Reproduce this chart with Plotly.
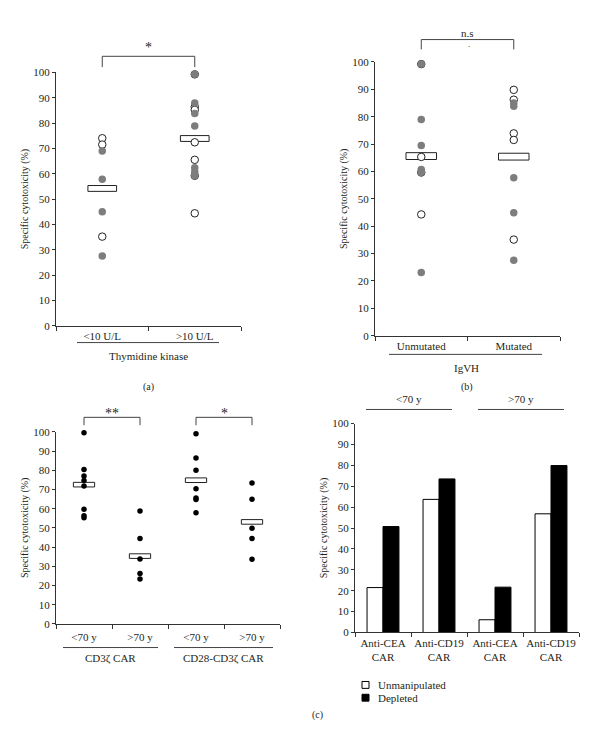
import plotly.graph_objects as go

# ---------------- data ----------------
# Panel (a): Thymidine kinase
a_categories = ["<10 U/L", ">10 U/L"]
a_low_open = [74.0, 71.5, 35.2]
a_low_gray = [69.0, 57.8, 45.0, 27.6]
a_high_open = [99.2, 86.4, 85.2, 72.4, 65.5, 59.2, 44.4]
a_high_gray = [99.2, 87.9, 83.8, 78.8, 62.4, 60.8, 59.2]
a_medians = [54.2, 73.9]

# Panel (b): IgVH
b_categories = ["Unmutated", "Mutated"]
b_unmut_open = [99.2, 65.3, 59.6, 44.3]
b_unmut_gray = [99.2, 79.0, 69.5, 60.7, 59.6, 23.1]
b_mut_open = [89.8, 86.2, 73.9, 71.5, 35.1]
b_mut_gray = [85.0, 83.8, 57.7, 44.9, 27.6]
b_medians = [65.6, 65.4]

# Panel (c) left: CAR constructs by age
c_categories = ["<70 y", ">70 y", "<70 y", ">70 y"]
c_groups = ["CD3\u03b6 CAR", "CD28-CD3\u03b6 CAR"]
c_cd3_young = [99.5, 80.4, 77.0, 74.6, 71.8, 59.7, 56.3, 55.3]
c_cd3_old = [58.8, 44.5, 33.8, 26.3, 23.4]
c_cd28_young = [99.0, 86.4, 80.0, 70.3, 65.5, 64.7, 57.9]
c_cd28_old = [73.4, 64.9, 49.8, 44.5, 33.6]
c_medians = [72.5, 35.3, 74.8, 53.1]

# Panel (c) right: bars
d_categories = ["Anti-CEA<br>CAR", "Anti-CD19<br>CAR", "Anti-CEA<br>CAR", "Anti-CD19<br>CAR"]
d_age_groups = ["<70 y", ">70 y"]
d_series = ["Unmanipulated", "Depleted"]
d_unmanipulated = [21.5, 63.7, 6.1, 56.8]
d_depleted = [50.7, 73.5, 21.7, 79.9]

y_ticks = list(range(0, 101, 10))

# ---------------- style ----------------
OFF = 8                      # default page body margin
W, H = 600 - OFF, 747 - OFF  # figure size so that the page is 600x747
FONT = "Liberation Serif"
TXT = "#231f20"
GRAY = "#7d7d7d"
AX = "#333333"


def px(x):
    return (x - OFF) / W


def py(y):
    return 1 - (y - OFF) / H


fig = go.Figure()


def add_points(vals, xi, xa, ya, kind, size=7.5):
    if kind == "open":
        marker = dict(size=size, color="white", line=dict(color="#222", width=1))
    elif kind == "gray":
        marker = dict(size=size, color=GRAY, line=dict(width=0))
    else:
        marker = dict(size=size, color="black", line=dict(width=0))
    fig.add_trace(go.Scatter(x=[xi] * len(vals), y=vals, mode="markers", marker=marker,
                             xaxis=xa, yaxis=ya, showlegend=False, cliponaxis=False,
                             hoverinfo="y"))


def add_medians(meds, xa, ya, width, h):
    fig.add_trace(go.Bar(x=list(range(len(meds))), y=[h] * len(meds),
                         base=[m - h / 2 for m in meds], width=width,
                         marker=dict(color="white", line=dict(color="#222", width=1)),
                         xaxis=xa, yaxis=ya, showlegend=False, hoverinfo="skip"))


# panel a
add_medians(a_medians, "x", "y", 0.31, 2.3)
add_points(a_low_open, 0, "x", "y", "open")
add_points(a_high_open, 1, "x", "y", "open")
add_points(a_low_gray, 0, "x", "y", "gray")
add_points(a_high_gray, 1, "x", "y", "gray")

# panel b
add_medians(b_medians, "x2", "y2", 0.33, 2.5)
add_points(b_unmut_open, 0, "x2", "y2", "open")
add_points(b_mut_open, 1, "x2", "y2", "open")
add_points(b_unmut_gray, 0, "x2", "y2", "gray")
add_points(b_mut_gray, 1, "x2", "y2", "gray")

# panel c left
add_medians(c_medians, "x3", "y3", 0.38, 2.4)
for i, vals in enumerate([c_cd3_young, c_cd3_old, c_cd28_young, c_cd28_old]):
    add_points(vals, i, "x3", "y3", "black", size=5.5)

# panel c right bars
fig.add_trace(go.Bar(x=list(range(4)), y=d_unmanipulated, name=d_series[0],
                     marker=dict(color="white", line=dict(color="black", width=1)),
                     xaxis="x4", yaxis="y4", offsetgroup="u", showlegend=False))
fig.add_trace(go.Bar(x=list(range(4)), y=d_depleted, name=d_series[1],
                     marker=dict(color="black", line=dict(color="black", width=1)),
                     xaxis="x4", yaxis="y4", offsetgroup="d", showlegend=False))


def xaxis_cfg(domain, n, labels, anchor, standoff):
    return dict(domain=domain, anchor=anchor, range=[-0.5, n - 0.5],
                tickmode="array", tickvals=list(range(n)), ticktext=labels,
                ticks="", showline=True, linecolor=AX, linewidth=1,
                showgrid=False, zeroline=False, ticklabelstandoff=standoff,
                tickfont=dict(size=11, color=TXT, family=FONT),
                minor=dict(tickmode="array", tickvals=[i - 0.5 for i in range(n + 1)],
                           ticks="outside", ticklen=4, tickcolor=AX, tickwidth=1,
                           showgrid=False),
                fixedrange=True)


def yaxis_cfg(domain, anchor):
    return dict(domain=domain, anchor=anchor, range=[0, 100],
                tickmode="array", tickvals=y_ticks,
                ticks="outside", ticklen=3, tickcolor=AX,
                showline=True, linecolor=AX, linewidth=1,
                showgrid=False, zeroline=False,
                tickfont=dict(size=11, color=TXT, family=FONT),
                title=dict(text="Specific cytotoxicity (%)",
                           font=dict(size=10, color=TXT, family=FONT), standoff=2),
                fixedrange=True)


fig.update_layout(
    width=W, height=H, margin=dict(l=0, r=0, t=0, b=0),
    paper_bgcolor="white", plot_bgcolor="white",
    font=dict(family=FONT, color=TXT, size=11),
    barmode="group", bargap=0.43, bargroupgap=0,
    xaxis=xaxis_cfg([px(56), px(241)], 2, a_categories, "y", 0),
    yaxis=yaxis_cfg([py(325), py(67.3)], "x"),
    xaxis2=xaxis_cfg([px(375), px(560)], 2, b_categories, "y2", 0),
    yaxis2=yaxis_cfg([py(335), py(56.7)], "x2"),
    xaxis3=xaxis_cfg([px(56), px(280)], 4, c_categories, "y3", 3),
    yaxis3=yaxis_cfg([py(628), py(432.7)], "x3"),
    xaxis4=xaxis_cfg([px(355), px(579)], 4, d_categories, "y4", 0),
    yaxis4=yaxis_cfg([py(636.7), py(424.3)], "x4"),
    showlegend=False,
)

shapes = []
ann = []
line_style = dict(color="#444", width=1)


def bracket(xref, x0, x1, ytop, ybot, label, ylab, size=13):
    shapes.append(dict(type="line", xref=xref, yref="paper", x0=x0, x1=x0, y0=py(ybot), y1=py(ytop), line=line_style))
    shapes.append(dict(type="line", xref=xref, yref="paper", x0=x0, x1=x1, y0=py(ytop), y1=py(ytop), line=line_style))
    shapes.append(dict(type="line", xref=xref, yref="paper", x0=x1, x1=x1, y0=py(ybot), y1=py(ytop), line=line_style))
    ann.append(dict(xref=xref, yref="paper", x=(x0 + x1) / 2, y=py(ylab), text=label,
                    xanchor="center", yanchor="middle",
                    showarrow=False, font=dict(size=size, color=TXT, family=FONT)))


def hline(x0, x1, y):
    shapes.append(dict(type="line", xref="paper", yref="paper", x0=px(x0), x1=px(x1), y0=py(y), y1=py(y),
                       line=dict(color="#444", width=1)))


def text(x, y, t, size=11, xanchor="center"):
    ann.append(dict(xref="paper", yref="paper", x=px(x), y=py(y), text=t, showarrow=False,
                    xanchor=xanchor, yanchor="middle",
                    font=dict(size=size, color=TXT, family=FONT)))


# panel a
bracket("x", 0, 1, 51, 62, "*", 42, size=14)
hline(77, 219, 342)
text(148.5, 356, "Thymidine kinase")
# panel b
bracket("x2", 0, 1, 34, 44, "n.s", 27, size=11)
text(469, 39, ".", size=9)
hline(389, 542, 354)
text(466, 368, "IgVH")
# panel c left
bracket("x3", 0, 1, 418, 426, "**", 414, size=14)
bracket("x3", 2, 3, 418, 426, "*", 414, size=14)
hline(63, 158, 652)
hline(174, 273, 652)
text(110.5, 663, c_groups[0])
text(223.5, 663, c_groups[1])
# panel c right
hline(366, 452, 410)
hline(478, 564, 410)
text(409, 399, d_age_groups[0])
text(521, 399, d_age_groups[1])
# legend (c right)
for k, (yy, fill) in enumerate([(690, "white"), (703, "black")]):
    shapes.append(dict(type="rect", xref="paper", yref="paper",
                       x0=px(362), x1=px(369), y0=py(yy + 3.5), y1=py(yy - 3.5),
                       fillcolor=fill, line=dict(color="black", width=1)))
    text(376, yy, d_series[k], size=11, xanchor="left")
# captions
text(148, 387, "(a)", size=10)
text(467, 387, "(b)", size=10)
text(317, 721, "(c)", size=10)

fig.update_layout(shapes=shapes, annotations=ann)

fig.write_html("out.html")
